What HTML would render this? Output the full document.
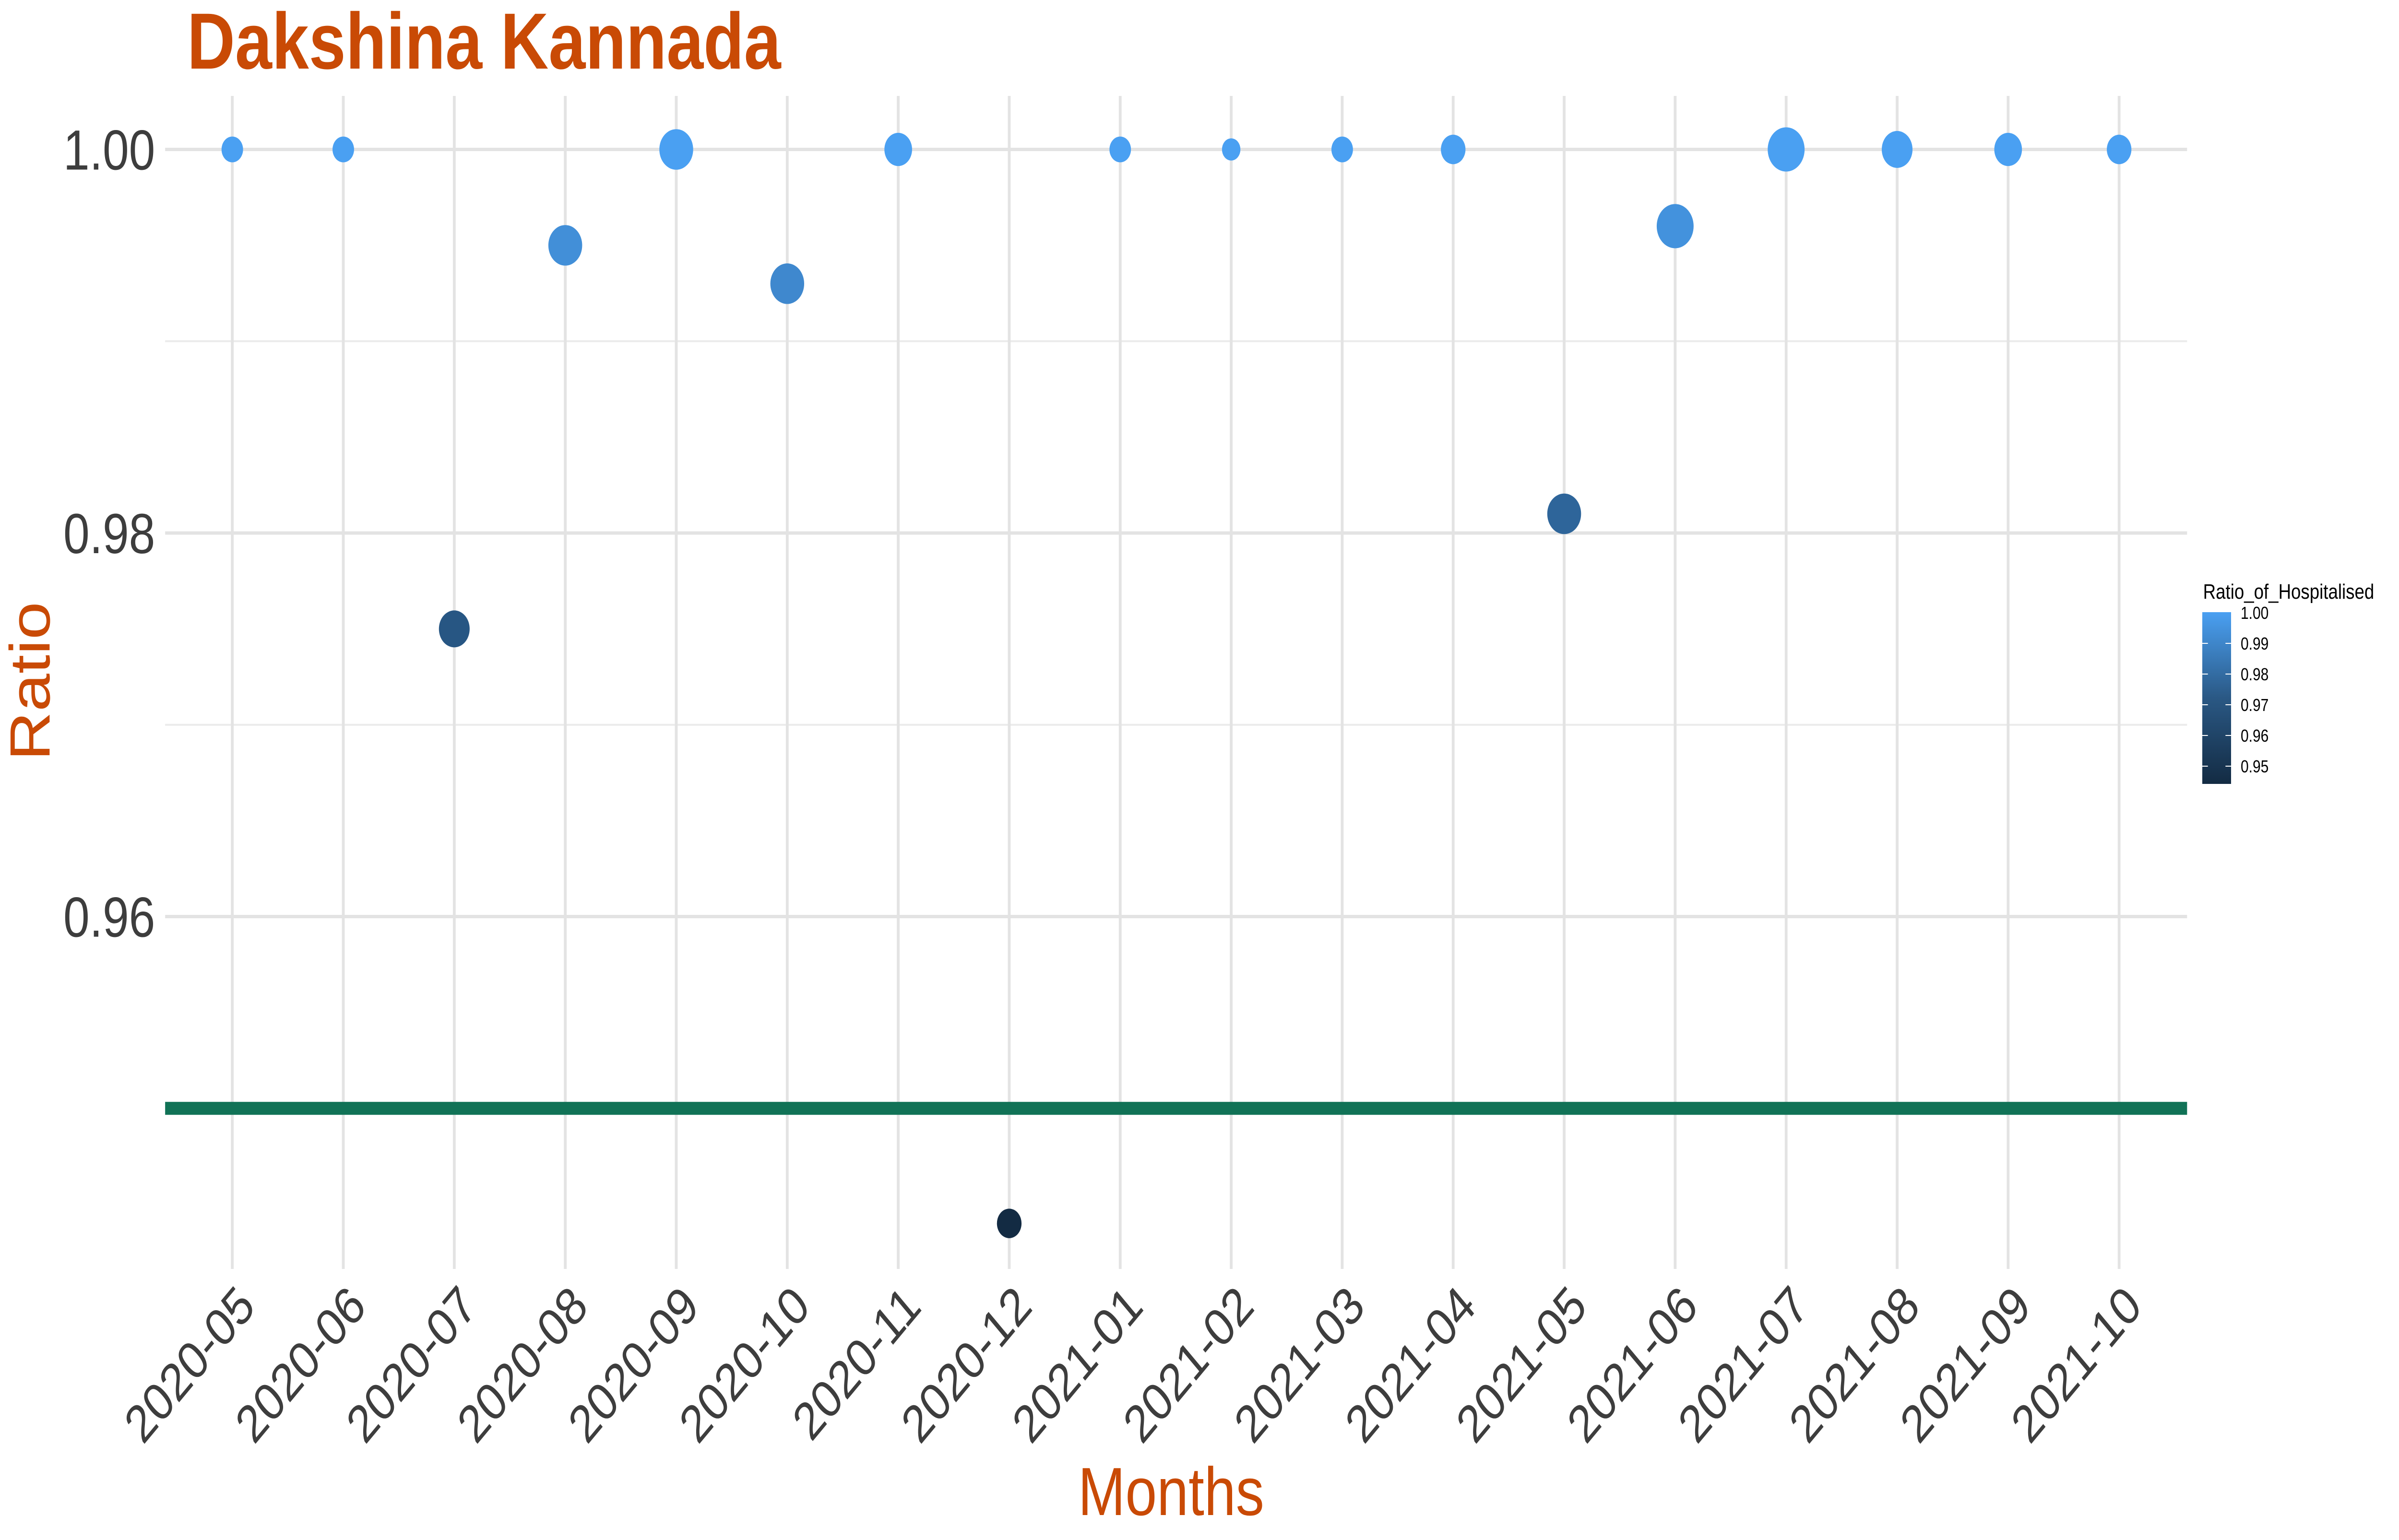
<!DOCTYPE html>
<html><head><meta charset="utf-8"><style>
html,body{margin:0;padding:0;background:#fff;overflow:hidden;width:100%;height:100%;}
svg{display:block;font-family:"Liberation Sans",Arial,sans-serif;width:100vw;height:100vh;}
</style></head><body>
<svg id="chart" viewBox="0 0 6000 3210" preserveAspectRatio="none" xmlns="http://www.w3.org/2000/svg">
<rect x="0" y="0" width="6000" height="3210" fill="#ffffff"/>
<text x="468" y="143" font-size="166" font-weight="bold" fill="#C94A05">Dakshina Kannada</text>
<g id="grid"></g>
<g id="yticks"></g>
<g id="xticks"></g>
<g id="refline"></g>
<g id="points"></g>
<text x="2929" y="3158" font-size="142" fill="#C94A05" text-anchor="middle">Months</text>
<text transform="translate(124,1420) rotate(-90)" font-size="142" fill="#C94A05" text-anchor="middle">Ratio</text>
<g id="legend">
<text x="5510" y="1248" font-size="44" fill="#000">Ratio_of_Hospitalised</text>
<defs><linearGradient id="lg" x1="0" y1="1" x2="0" y2="0">
<stop offset="0" stop-color="#132B43"/><stop offset="0.5" stop-color="#2A5884"/><stop offset="1" stop-color="#4AA0F2"/></linearGradient></defs>
<rect id="legbar" x="5508" y="1276" width="72" height="358" fill="url(#lg)"/>
<g id="legticks"></g>
</g>
</svg>
<script>
const categories = ["2020-05","2020-06","2020-07","2020-08","2020-09","2020-10","2020-11","2020-12","2021-01","2021-02","2021-03","2021-04","2021-05","2021-06","2021-07","2021-08","2021-09","2021-10"];
const ratioValues = [1.000,1.000,0.975,0.995,1.000,0.993,1.000,0.944,1.000,1.000,1.000,1.000,0.981,0.996,1.000,1.000,1.000,1.000];
const caseCounts = [7,7,10,11,11,11,9,8,7,6,7,8,11,12,12,10,9,8];
const yTickValues = [0.96,0.98,1.00];
const yTickLabels = ["0.96","0.98","1.00"];
const yMinorValues = [0.97,0.99];
const thresholdValue = [0.95];
const legendTickValues = [0.95,0.96,0.97,0.98,0.99,1.00];
const legendTickLabels = ["0.95","0.96","0.97","0.98","0.99","1.00"];

const NS="http://www.w3.org/2000/svg";
const PL=413, PR=5470, PT=200, PB=2645;
const xScale=i=>581+i*(5300-581)/(categories.length-1);
const yScale=v=>311.5+(1.00-v)*(799.5/0.02);
const cmin=0.944, cmax=1.0;
function lerp(a,b,t){return Math.round(a+(b-a)*t);}
function color(v){let t=(v-cmin)/(cmax-cmin);t=Math.max(0,Math.min(1,t));t=Math.pow(t,1.7);
 const r=lerp(0x13,0x4A,t),g=lerp(0x2B,0xA0,t),b=lerp(0x43,0xF2,t);return `rgb(${r},${g},${b})`;}
function mk(tag,attrs,parent){const e=document.createElementNS(NS,tag);for(const k in attrs)e.setAttribute(k,attrs[k]);parent.appendChild(e);return e;}
const grid=document.getElementById('grid');
yMinorValues.forEach(v=>{const l=mk('line',{x1:PL,x2:PR,y1:yScale(v),y2:yScale(v),stroke:'#EBEBEB','stroke-width':4},grid);
 
 });
yTickValues.forEach(v=>{const l=mk('line',{x1:PL,x2:PR,y1:yScale(v),y2:yScale(v),stroke:'#E3E3E3','stroke-width':7},grid);
 
 });
categories.forEach((c,i)=>{const l=mk('line',{x1:xScale(i),x2:xScale(i),y1:PT,y2:PB,stroke:'#E3E3E3','stroke-width':7},grid);
 
 });
const yt=document.getElementById('yticks');
yTickValues.forEach((v,i)=>{const t=mk('text',{x:388,y:yScale(v)+42,'font-size':118,fill:'#3D3D3D','text-anchor':'end'},yt);t.textContent=yTickLabels[i];
 
 });
const xt=document.getElementById('xticks');
categories.forEach((c,i)=>{const t=mk('text',{transform:`translate(${xScale(i)+6},2672) rotate(-45)`,'font-size':110,fill:'#3D3D3D','text-anchor':'end',dy:'0.72em'},xt);t.textContent=c;
 
 });
const rl=document.getElementById('refline');
thresholdValue.forEach(v=>{const l=mk('line',{x1:PL,x2:PR,y1:yScale(v),y2:yScale(v),stroke:'#117256','stroke-width':27},rl);
 
 });
const pts=document.getElementById('points');
categories.forEach((c,i)=>{const r=caseCounts[i]*3.846;
 const p=mk('circle',{cx:xScale(i),cy:yScale(ratioValues[i]),r:r,fill:color(ratioValues[i])},pts);
 
 });
const lt=document.getElementById('legticks');
const legY=v=>1277+(1.00-v)*6400;
legendTickValues.forEach((v,i)=>{
 if(v<1.0){const a=mk('line',{x1:5508,x2:5522,y1:legY(v),y2:legY(v),stroke:'#fff','stroke-width':2},lt);
 
 
 const b=mk('line',{x1:5566,x2:5580,y1:legY(v),y2:legY(v),stroke:'#fff','stroke-width':2},lt);
 
 }
 const t=mk('text',{x:5604,y:legY(v)+13,'font-size':36,fill:'#000'},lt);t.textContent=legendTickLabels[i];
 
 });
</script>
</body></html>
